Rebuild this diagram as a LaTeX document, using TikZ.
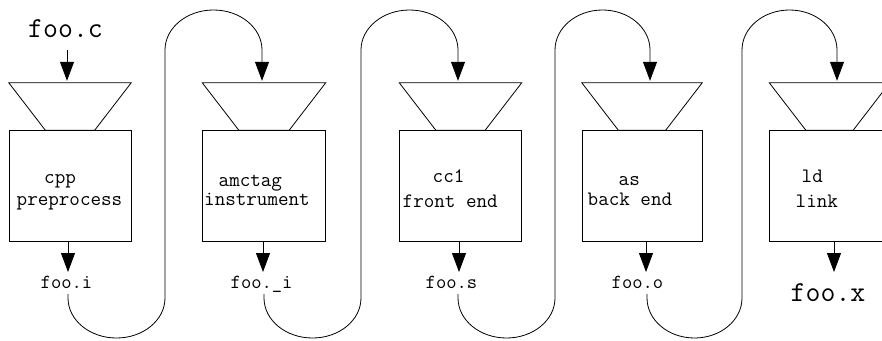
\documentclass[tikz,border=0pt]{standalone}
\usepackage{fontspec}
\usetikzlibrary{arrows.meta}
\tikzset{
  ln/.style={line width=0.8pt, black},
  stagebox/.style={ln, draw, rectangle, minimum height=111pt, inner sep=0pt},
  funnelbox/.style={rectangle, minimum height=47pt, inner sep=0pt},
  boxtxt/.style={anchor=base west, inner sep=0pt, font=\ttfamily\fontsize{20.5}{22}\selectfont},
  lbl/.style={anchor=base west, inner sep=0pt, font=\ttfamily\fontsize{20}{22}\selectfont},
  biglbl/.style={anchor=base west, inner sep=0pt, font=\ttfamily\fontsize{29}{31}\selectfont},
  arr/.style={ln, -{Triangle[length=19pt,width=14pt]}},
  loopline/.style={ln, -{Triangle[length=19pt,width=14pt]}, shorten >=2pt},
}
\begin{document}
\begin{tikzpicture}[x=1pt,y=-1pt]
\useasboundingbox (0,0) rectangle (882,340);
\fill[white] (0,0) rectangle (882,340);

% boxes
\node[stagebox, minimum width=122pt] (b1) at (70,185.5) {};
\node[stagebox, minimum width=123pt] (b2) at (264,185.5) {};
\node[stagebox, minimum width=122pt] (b3) at (460.5,185.5) {};
\node[stagebox, minimum width=120pt] (b4) at (642,185.5) {};
\node[stagebox, minimum width=120pt] (b5) at (829.5,185.5) {};

% funnels
\node[funnelbox, minimum width=122pt] (f1) at (70,106.5) {};
\node[funnelbox, minimum width=123pt] (f2) at (264,106.5) {};
\node[funnelbox, minimum width=122pt] (f3) at (460.5,106.5) {};
\node[funnelbox, minimum width=120pt] (f4) at (642,106.5) {};
\node[funnelbox, minimum width=120pt] (f5) at (829.5,106.5) {};
\foreach \f in {f1,f2,f3,f4,f5}
  \draw[ln, line join=miter] (\f.north west) -- (\f.north east)
     -- ([xshift=-36.5pt]\f.south east) -- ([xshift=36.5pt]\f.south west) -- cycle;

% box texts
\node[boxtxt] (t1a) at (44,183) {cpp};
\node[boxtxt] (t1b) at (16.5,205) {preprocess};
\node[boxtxt] (t2a) at (218.5,186) {amctag};
\node[boxtxt] (t2b) at (204,205) {instrument};
\node[boxtxt] (t3a) at (432.5,182) {cc1};
\node[boxtxt] (t3b) at (402.5,207) {front end};
\node[boxtxt] (t4a) at (618.5,185) {as};
\node[boxtxt] (t4b) at (587.5,205) {back end};
\node[boxtxt] (t5a) at (801.5,182) {ld};
\node[boxtxt] (t5b) at (795.5,207) {link};

% file labels
\node[biglbl] (fc) at (28,37) {foo.c};
\node[lbl] (l1) at (40.5,288) {foo.i};
\node[lbl] (l2) at (230.5,288) {foo.\_i};
\node[lbl] (l3) at (425.5,288) {foo.s};
\node[lbl] (l4) at (611.5,288) {foo.o};
\node[biglbl] (l5) at (790.5,301) {foo.x};

% arrow ends below boxes
\coordinate (d1) at (68,272);
\coordinate (d2) at (263,272);
\coordinate (d3) at (459,272);
\coordinate (d4) at (646,272);
\coordinate (d5) at (834,272);
% loop starts below labels
\coordinate (s1) at (68,294);
\coordinate (s2) at (264,294);
\coordinate (s3) at (458,294);
\coordinate (s4) at (647,294);

% input arrow
\coordinate (c0) at (67,50);
\draw[loopline] (c0) -- (c0 |- f1.north);

% output arrows of boxes
\draw[arr] (b1.south -| d1) -- (d1);
\draw[arr] (b2.south -| d2) -- (d2);
\draw[arr] (b3.south -| d3) -- (d3);
\draw[arr] (b4.south -| d4) -- (d4);
\draw[arr] (b5.south -| d5) -- (d5);

% loops from each output to the next funnel
\draw[loopline] (s1) -- ++(0,4)
  arc[start angle=180,end angle=0,x radius=48.5,y radius=40] -- ++(0,-248)
  arc[start angle=180,end angle=360,x radius=48.5,y radius=40] coordinate (e1)
  -- (e1 |- f2.north);
\draw[loopline] (s2) -- ++(0,4)
  arc[start angle=180,end angle=0,x radius=48.5,y radius=40] -- ++(0,-248)
  arc[start angle=180,end angle=360,x radius=48.5,y radius=40] coordinate (e2)
  -- (e2 |- f3.north);
\draw[loopline] (s3) -- ++(0,4)
  arc[start angle=180,end angle=0,x radius=48.5,y radius=40] -- ++(0,-248)
  arc[start angle=180,end angle=360,x radius=47.5,y radius=40] coordinate (e3)
  -- (e3 |- f4.north);
\draw[loopline] (s4) -- ++(0,4)
  arc[start angle=180,end angle=0,x radius=47.5,y radius=40] -- ++(0,-248)
  arc[start angle=180,end angle=360,x radius=47.5,y radius=40] coordinate (e4)
  -- (e4 |- f5.north);
\end{tikzpicture}
\end{document}
